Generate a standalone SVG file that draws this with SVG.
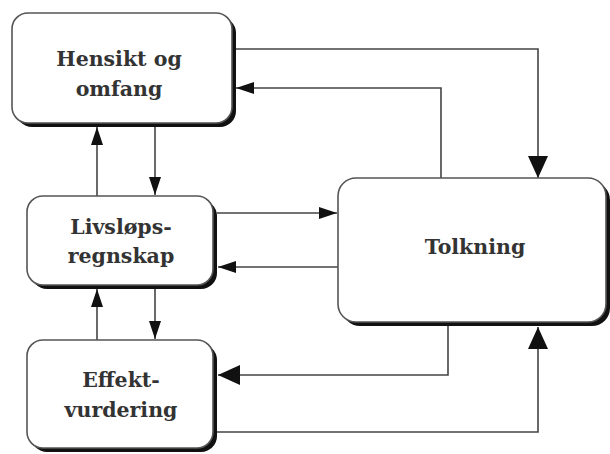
<svg xmlns="http://www.w3.org/2000/svg" width="610" height="454" viewBox="0 0 610 454">
<style>
.box{fill:#fff;stroke:#555;stroke-width:1.6}
.shadow{fill:#111}
.lbl{font-family:"DejaVu Serif","Liberation Serif",serif;font-weight:bold;font-size:20.5px;fill:#333;text-anchor:middle}
.conn path{fill:none;stroke:#444;stroke-width:1.6}
</style>
<defs>
<marker id="big" markerUnits="userSpaceOnUse" markerWidth="22" markerHeight="20" viewBox="0 0 22 20" refX="22" refY="10" orient="auto">
<path d="M0,0 L22,10 L0,20 Z" fill="#111"/>
</marker>
<marker id="small" markerUnits="userSpaceOnUse" markerWidth="18" markerHeight="12" viewBox="0 0 18 12" refX="18" refY="6" orient="auto">
<path d="M0,0 L18,6 L0,12 Z" fill="#111"/>
</marker>
</defs>
<g class="conn">
<path d="M236,49 H538 V178" marker-end="url(#big)"/>
<path d="M441,178 V88 H236" marker-end="url(#small)"/>
<path d="M155,127 V195" marker-end="url(#small)"/>
<path d="M97,196 V127" marker-end="url(#small)"/>
<path d="M217,213 H337" marker-end="url(#small)"/>
<path d="M338,267 H218" marker-end="url(#small)"/>
<path d="M155,289 V339" marker-end="url(#small)"/>
<path d="M97,340 V289" marker-end="url(#small)"/>
<path d="M448,326 V375 H218" marker-end="url(#big)"/>
<path d="M217,432 H538 V327" marker-end="url(#big)"/>
</g>
<g id="hensikt">
<rect class="shadow" x="16" y="17" width="220" height="110" rx="16"/>
<rect class="box" x="12" y="13" width="220" height="110" rx="16"/>
<text class="lbl" x="119" y="66">Hensikt og</text>
<text class="lbl" x="119" y="96">omfang</text>
</g>
<g id="livslops">
<rect class="shadow" x="31" y="200" width="186" height="89" rx="16"/>
<rect class="box" x="27" y="196" width="186" height="89" rx="16"/>
<text class="lbl" x="121" y="234">Livsløps-</text>
<text class="lbl" x="121" y="263">regnskap</text>
</g>
<g id="effekt">
<rect class="shadow" x="31" y="344" width="186" height="108" rx="16"/>
<rect class="box" x="27" y="340" width="186" height="108" rx="16"/>
<text class="lbl" x="121" y="387">Effekt-</text>
<text class="lbl" x="121" y="417">vurdering</text>
</g>
<g id="tolkning">
<rect class="shadow" x="342" y="182" width="268" height="144" rx="18"/>
<rect class="box" x="338" y="178" width="268" height="144" rx="18"/>
<text class="lbl" x="475" y="254">Tolkning</text>
</g>
</svg>
